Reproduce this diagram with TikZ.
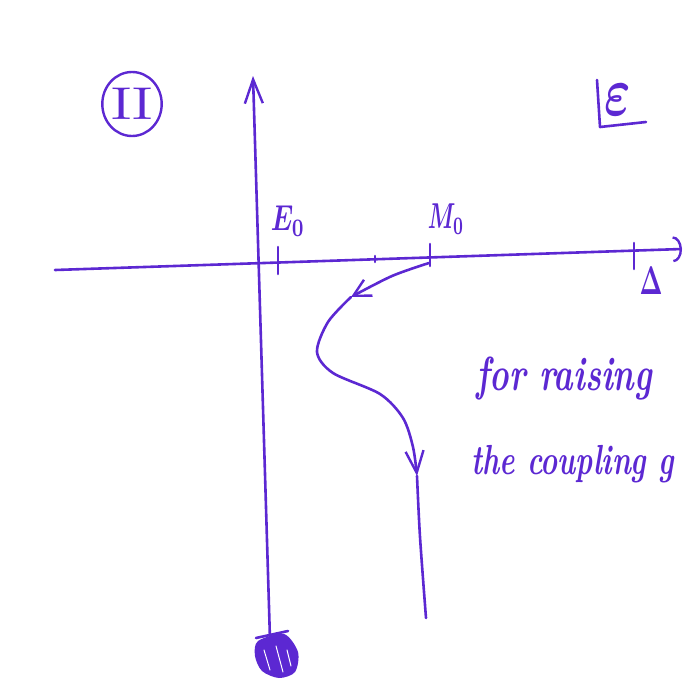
\documentclass[tikz,border=0pt]{standalone}
\usetikzlibrary{arrows.meta,shapes.geometric}
\definecolor{ink}{RGB}{92,40,210}
\begin{document}
\begin{tikzpicture}[x=1pt,y=-1pt,color=ink,line width=2.6pt,line cap=round,line join=round,
    barb/.style={-{Straight Barb[length=#1,width=18pt,line width=2.4pt]}}]
\useasboundingbox (0,0) rectangle (688,680);
\coordinate (hl) at (55,270);
\coordinate (hr) at (682,249);
\coordinate (vb) at (270,640);
\coordinate (vt) at (253,76);
\draw[-{Arc Barb[length=9pt,width=26pt,line width=2.4pt]}] (hl) -- (hr);
\draw[barb=24pt] (vb) -- (vt);
\fill plot[smooth cycle] coordinates {(258,641) (284,634) (298,652) (295,672) (279,678) (262,671) (255,656)};
\draw[white, line width=1pt] (264,650) -- (270,670) (276,646) -- (283,672) (287,650) -- (291,666);
\draw (256,638) -- (288,631);
\draw (278,247) -- (278,274);
\node [inner sep=0pt] (lE) at (288,221) {\scalebox{2.6}[3.6]{\boldmath$E_0$}};
\draw (375,256) -- (375,262);
\draw (430,244) -- (430,266);
\node [inner sep=0pt] (lM) at (446,219) {\scalebox{2.2}[3.6]{\boldmath$M_0$}};
\draw (634,243) -- (634,269);
\node [inner sep=0pt] (lD) at (651,281) {\scalebox{2.4}[4]{\boldmath$\Delta$}};
\coordinate (m0) at (429,263);
\coordinate (a1) at (351,297);
\coordinate (a2) at (417,476);
\coordinate (cend) at (426,618);
\draw[barb=17pt] plot[smooth] coordinates {(m0) (392,276) (a1)};
\draw[barb=22pt] plot[smooth] coordinates {(a1) (328,322) (317,352) (333,373) (380,394) (403,418) (413,447) (a2)};
\draw plot[smooth] coordinates {(a2) (420,537) (cend)};
\node [ellipse, draw, line width=2.4pt, minimum width=58pt, minimum height=64pt, inner sep=0pt] (sheet) at (132,104) {\scalebox{5.6}[4.6]{II}};
\draw (597,80) -- (600,127) -- (646,122);
\node [inner sep=0pt] (eps) at (618,100) {\scalebox{5}[7]{\boldmath$\varepsilon$}};
\node [anchor=base west, inner sep=0pt] (txa) at (475,390) {\scalebox{1}[1.45]{\fontsize{33}{33}\selectfont\bfseries\itshape for raising}};
\node [anchor=base west, inner sep=0pt] (txb) at (470,474) {\scalebox{1}[1.45]{\fontsize{29}{29}\selectfont\bfseries\itshape the coupling g}};
\end{tikzpicture}
\end{document}
